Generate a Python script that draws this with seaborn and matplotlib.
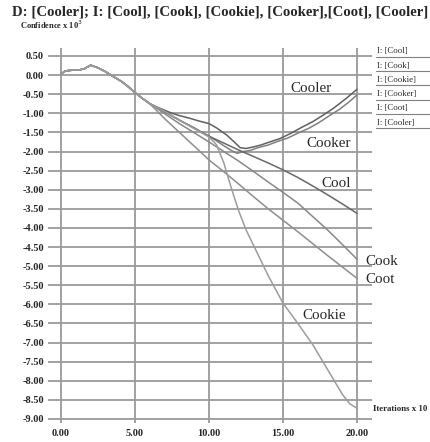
import matplotlib
matplotlib.use("Agg")
import matplotlib.pyplot as plt
import pandas as pd
import seaborn as sns
from matplotlib.lines import Line2D

# common start of every run (x: iterations x 10, y: confidence x 10^3)
start_x = [0.0, 0.3, 0.8, 1.3, 1.6, 2.0, 2.5, 3.0, 3.5, 4.1, 4.5, 5.0, 5.5, 6.0]
start_y = [0.03, 0.11, 0.13, 0.14, 0.17, 0.26, 0.19, 0.09, -0.03, -0.17, -0.29, -0.46, -0.61, -0.75]

# rest of each run
cooler_x = [6.5, 7, 7.5, 8, 8.7, 9.3, 10, 10.5, 11.2, 11.7, 12.1, 12.5, 13, 13.5, 14.1,
            14.8, 15.5, 16.2, 17, 17.7, 18.4, 19.3, 20]
cooler_y = [-0.84, -0.92, -1.0, -1.06, -1.13, -1.2, -1.27, -1.38, -1.57, -1.75, -1.9, -1.92,
            -1.88, -1.83, -1.75, -1.66, -1.53, -1.38, -1.22, -1.05, -0.87, -0.6, -0.37]
cooker_x = [6.5, 7, 7.5, 8, 8.5, 9, 9.5, 10, 10.5, 11, 11.5, 11.9, 12.3, 12.8, 13.3, 14,
            14.6, 15.3, 16, 16.7, 17.4, 18.1, 18.8, 19.4, 20]
cooker_y = [-0.85, -0.96, -1.07, -1.18, -1.28, -1.38, -1.5, -1.6, -1.72, -1.85, -1.97, -2.05,
            -2.0, -1.97, -1.9, -1.83, -1.74, -1.65, -1.52, -1.4, -1.25, -1.07, -0.9, -0.72, -0.52]
cool_x = [7, 8, 9, 10, 11, 12, 13, 14, 15, 16, 17, 18, 19, 20]
cool_y = [-0.96, -1.18, -1.39, -1.6, -1.78, -1.96, -2.13, -2.3, -2.48, -2.68, -2.9, -3.13, -3.37, -3.62]
cook_x = [7, 8, 9, 10, 11, 12, 13, 14, 15, 16, 17, 18, 19, 20]
cook_y = [-1.01, -1.27, -1.51, -1.75, -2.0, -2.25, -2.52, -2.8, -3.07, -3.35, -3.7, -4.05, -4.43, -4.82]
coot_x = [7, 8, 9, 10, 11, 12, 13, 14, 15, 16, 17, 18, 19, 20]
coot_y = [-1.14, -1.5, -1.86, -2.22, -2.53, -2.85, -3.18, -3.5, -3.8, -4.1, -4.41, -4.72, -5.02, -5.32]
cookie_x = [7, 8, 9, 10, 10.5, 11, 11.5, 12, 12.5, 13, 14, 15, 16, 17, 18, 19, 19.5, 20]
cookie_y = [-0.95, -1.18, -1.4, -1.62, -1.82, -2.3, -2.95, -3.55, -4.05, -4.45, -5.25, -5.97,
            -6.5, -7.05, -7.7, -8.35, -8.6, -8.72]

words = ["Cooler", "Cooker", "Cool", "Cook", "Coot", "Cookie"]
tails = {
    "Cooler": (cooler_x, cooler_y),
    "Cooker": (cooker_x, cooker_y),
    "Cool": (cool_x, cool_y),
    "Cook": (cook_x, cook_y),
    "Coot": (coot_x, coot_y),
    "Cookie": (cookie_x, cookie_y),
}
line_colors = {"Cooler": "#606060", "Cooker": "#808080", "Cool": "#686868",
               "Cook": "#888888", "Coot": "#8e8e8e", "Cookie": "#9c9c9c"}

# where the word labels sit (data coords)
label_pos = {"Cooler": (16.9, -0.34), "Cooker": (18.1, -1.78), "Cool": (18.6, -2.85),
             "Cook": (21.65, -4.87), "Coot": (21.55, -5.34), "Cookie": (17.8, -6.3)}

legend_labels = ["I: [Cool]", "I: [Cook]", "I: [Cookie]", "I: [Cooker]", "I: [Coot]", "I: [Cooler]"]
x_ticks = [0, 5, 10, 15, 20]
y_ticks = [0.5 - 0.5 * i for i in range(20)]

rows = []
for w in words:
    tx, ty = tails[w]
    for x, y in zip(start_x + tx, start_y + ty):
        rows.append({"word": w, "iter": x, "conf": y})
df = pd.DataFrame(rows)

sns.set_style("white")
plt.rcParams["font.family"] = ["Liberation Serif", "DejaVu Serif"]

W, H = 430, 442
fig = plt.figure(figsize=(W / 100, H / 100), dpi=100)
ax = fig.add_axes([48 / W, 1 - 423 / H, (372 - 48) / W, (423 - 48) / H])

sns.lineplot(data=df, x="iter", y="conf", hue="word", palette=line_colors,
             estimator=None, sort=False, legend=False, lw=1.1, ax=ax, zorder=3)

ax.set_xlim(-0.88, 21.01)
ax.set_ylim(-9.105, 0.709)
ax.set_xticks(x_ticks)
ax.set_xticklabels([f"{v:.2f}" for v in x_ticks], fontsize=7.5, fontweight="bold")
ax.set_yticks(y_ticks)
ax.set_yticklabels([f"{v:.2f}" for v in y_ticks], fontsize=7.5, fontweight="bold")
ax.minorticks_off()
ax.tick_params(length=0, pad=3)
ax.tick_params(axis="x", pad=4)
ax.grid(True, which="major", color="#9a9a9a", lw=1.3)
ax.set_xlabel("")
ax.set_ylabel("")
for s in ax.spines.values():
    s.set_visible(False)

for w in words:
    lx, ly = label_pos[w]
    ax.text(lx, ly, w, fontsize=10.8, ha="center", va="center", clip_on=False, zorder=4)

fig.text(12 / W, 1 - 12 / H,
         "D: [Cooler]; I: [Cool], [Cook], [Cookie], [Cooker],[Coot], [Cooler]",
         fontsize=10.6, fontweight="bold", ha="left", va="center")
fig.text(20 / W, 1 - 25 / H, "Confidence x 10$^3$", fontsize=6, fontweight="bold",
         ha="left", va="center")
fig.text(373 / W, 1 - 409 / H, "Iterations x 10", fontsize=6.3, fontweight="bold",
         ha="left", va="center")

# the little key table at the right
for i, lab in enumerate(legend_labels):
    ypix = 51.5 + 14.2 * i
    fig.text(377 / W, 1 - ypix / H, lab, fontsize=6.3, ha="left", va="center")
    ly = 1 - (ypix + 5.5) / H
    fig.add_artist(Line2D([376 / W, 430 / W], [ly, ly], color="#808080", lw=0.8))

fig.savefig("out.png", dpi=100)
